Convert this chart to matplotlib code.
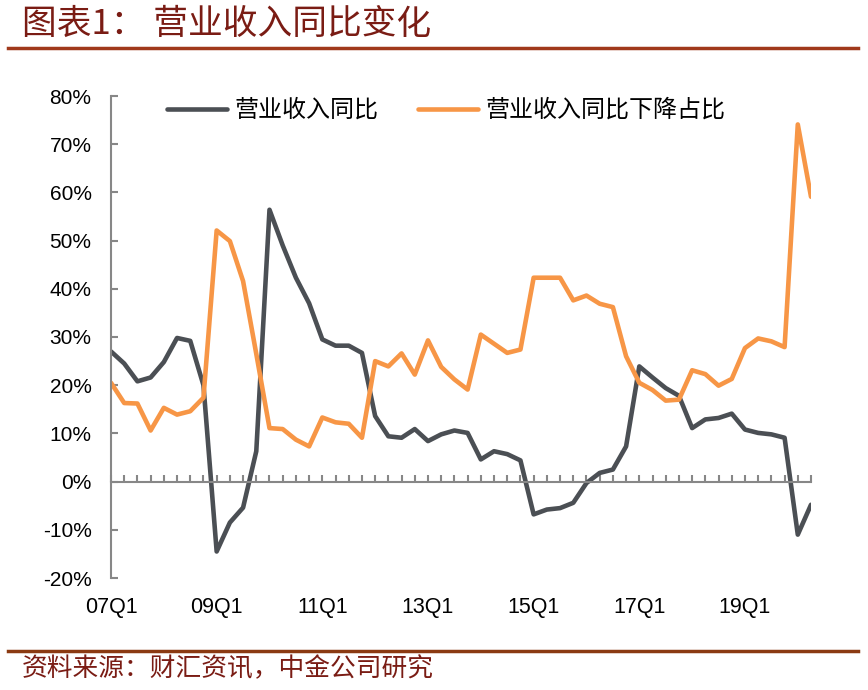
import matplotlib.pyplot as plt
import numpy as np
from matplotlib.lines import Line2D
from matplotlib.ticker import FuncFormatter

plt.rcParams['font.family'] = ['Liberation Sans', 'Noto Sans CJK SC', 'DejaVu Sans']

# 07Q1 ... 20Q2
quarters = [f'{y:02d}Q{q}' for y in range(7, 21) for q in range(1, 5)][:54]
tick_labels = ['07Q1', '09Q1', '11Q1', '13Q1', '15Q1', '17Q1', '19Q1']

# 营业收入同比 (%)
revenue_yoy = [27.0, 24.5, 20.8, 21.6, 24.8, 29.8, 29.2, 20.0, -14.5, -8.5,
               -5.4, 6.3, 56.4, 49.0, 42.3, 37.0, 29.5, 28.2, 28.2, 26.7,
               13.6, 9.4, 9.1, 10.9, 8.4, 9.8, 10.6, 10.1, 4.6, 6.3,
               5.7, 4.4, -6.8, -5.8, -5.5, -4.4, -0.3, 1.8, 2.5, 7.3,
               23.9, 21.6, 19.4, 17.8, 11.1, 12.9, 13.2, 14.1, 10.8, 10.1,
               9.8, 9.1, -11.0, -4.8]

# 营业收入同比下降占比 (%)
decline_share = [20.5, 16.3, 16.2, 10.6, 15.3, 13.9, 14.6, 17.4, 52.1, 49.9,
                 41.6, 26.5, 11.1, 10.9, 8.7, 7.3, 13.3, 12.3, 12.0, 9.1,
                 25.0, 23.9, 26.6, 22.2, 29.3, 23.8, 21.2, 19.1, 30.5, 28.6,
                 26.7, 27.4, 42.3, 42.3, 42.3, 37.6, 38.6, 36.9, 36.2, 26.0,
                 20.5, 19.0, 16.8, 17.0, 23.1, 22.3, 19.9, 21.3, 27.7, 29.7,
                 29.1, 27.9, 74.1, 59.1]

gray = '#878787'
cjk = ['Noto Sans CJK SC', 'DejaVu Sans']

fig = plt.figure(figsize=(8.68, 6.9), dpi=100)
ax = fig.add_axes([111 / 868, 1 - 578 / 690, 700 / 868, 482 / 690])

x = np.arange(len(quarters))
ax.plot(x, revenue_yoy, color='#4b4f54', lw=3.3, label='营业收入同比',
        solid_joinstyle='round', solid_capstyle='round')
ax.plot(x, decline_share, color='#f79646', lw=3.3, label='营业收入同比下降占比',
        solid_joinstyle='round', solid_capstyle='round')

ax.set_xlim(0, len(quarters) - 1)
ax.set_ylim(-20, 80)
ax.set_yticks(range(-20, 81, 10))
ax.yaxis.set_major_formatter(FuncFormatter(lambda v, p: f'{v:.0f}%'))
for s in ['top', 'right']:
    ax.spines[s].set_visible(False)
ax.spines['left'].set_color(gray)
ax.spines['left'].set_linewidth(1.5)
ax.spines['bottom'].set_position(('data', 0))
ax.spines['bottom'].set_color(gray)
ax.spines['bottom'].set_linewidth(1.5)
ax.tick_params(axis='y', direction='in', length=5, width=1.5, color=gray,
               pad=14, labelsize=15)
ax.set_xticks(x)
ax.tick_params(axis='x', direction='in', length=5, width=1.5, color=gray,
               labelbottom=False)

sec = ax.secondary_xaxis(0.0)
sec.set_xticks([quarters.index(t) for t in tick_labels], tick_labels)
sec.spines['bottom'].set_visible(False)
sec.tick_params(length=0, pad=14, labelsize=15.5)

ax.legend(loc='center left', bbox_to_anchor=(0.08, 0.971), ncol=2,
          frameon=False, borderpad=0, borderaxespad=0, handlelength=2.5,
          handletextpad=0.3, columnspacing=1.65,
          prop={'family': cjk, 'size': 17.3})

# header / footer
fig.add_artist(Line2D([8 / 868, 858 / 868], [1 - 48 / 690] * 2,
                      color='#a0391b', lw=2.5))
fig.add_artist(Line2D([8 / 868, 858 / 868], [1 - 651 / 690] * 2,
                      color='#8b3a12', lw=2.5))
fig.text(22 / 868, 1 - 24 / 690, '图表1： 营业收入同比变化', color='#7a1c14',
         fontsize=25, va='center', family=cjk)
fig.text(22 / 868, 1 - 669 / 690, '资料来源：财汇资讯，中金公司研究',
         color='#7a1c14', fontsize=18.5, va='center', family=cjk)

fig.savefig('out.png', dpi=100)
